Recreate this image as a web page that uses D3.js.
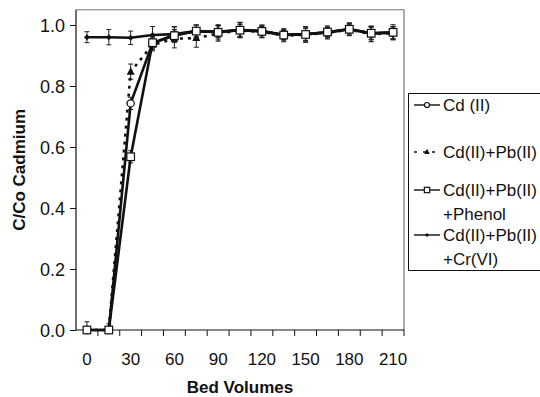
<!DOCTYPE html>
<html>
<head>
<meta charset="utf-8">
<script src="https://cdn.jsdelivr.net/npm/d3@7"></script>
<style>
  body { margin: 0; background: #fff; }
  svg text { font-family: "Liberation Sans", Arial, sans-serif; fill: #111; }
</style>
</head>
<body>
<div id="chart"></div>
<script>
// bed volumes (categories)
var bedVolumes = [0, 15, 30, 45, 60, 75, 90, 105, 120, 135, 150, 165, 180, 195, 210];
var xLabels = ["0", "", "30", "", "60", "", "90", "", "120", "", "150", "", "180", "", "210"];
var yTicks = [0, 0.2, 0.4, 0.6, 0.8, 1.0];

// C/Co values
var cdOnly   = [0, 0, 0.743, 0.94, 0.968, 0.98, 0.978, 0.983, 0.98, 0.968, 0.97, 0.975, 0.986, 0.972, 0.975];
var cdPb     = [0, 0, 0.847, 0.935, 0.955, 0.957, 0.972, 0.982, 0.978, 0.965, 0.968, 0.974, 0.985, 0.97, 0.973];
var cdPbPhen = [0, 0, 0.568, 0.942, 0.965, 0.98, 0.976, 0.983, 0.979, 0.967, 0.969, 0.977, 0.986, 0.973, 0.976];
var cdPbCr   = [0.96, 0.96, 0.958, 0.967, 0.97, 0.98, 0.978, 0.984, 0.98, 0.967, 0.97, 0.976, 0.987, 0.973, 0.975];

// error (+/-)
var errCd    = [0, 0, 0.02, 0.02, 0.025, 0.02, 0.02, 0.02, 0.015, 0.02, 0.02, 0.015, 0.02, 0.025, 0.02];
var errPb    = [0, 0, 0.025, 0.02, 0.03, 0.03, 0.025, 0.02, 0.02, 0.02, 0.025, 0.02, 0.02, 0.025, 0.02];
var errPhen  = [0.027, 0.02, 0.02, 0.02, 0.02, 0.02, 0.025, 0.025, 0.02, 0.015, 0.02, 0.02, 0.015, 0.02, 0.025];
var errCr    = [0.018, 0.025, 0.022, 0.028, 0.025, 0.02, 0.02, 0.025, 0.02, 0.015, 0.025, 0.015, 0.02, 0.02, 0.02];

var seriesNames = ["Cd (II)", "Cd(II)+Pb(II)", "Cd(II)+Pb(II)\n+Phenol", "Cd(II)+Pb(II)\n+Cr(VI)"];

var series = [
  { name: seriesNames[0], values: cdOnly,   err: errCd,   marker: "circle",   dash: null },
  { name: seriesNames[1], values: cdPb,     err: errPb,   marker: "triangle", dash: "3,5" },
  { name: seriesNames[2], values: cdPbPhen, err: errPhen, marker: "square",   dash: null },
  { name: seriesNames[3], values: cdPbCr,   err: errCr,   marker: "diamond",  dash: null }
];

var W = 540, H = 397;
var plot = { left: 76, right: 404, top: 9.75, bottom: 330 };

var svg = d3.select("#chart").append("svg")
    .attr("width", W)
    .attr("height", H);

var xScale = d3.scaleBand()
    .domain(bedVolumes)
    .range([plot.left, plot.right])
    .padding(0);

var yScale = d3.scaleLinear()
    .domain([0, 1.05])
    .range([plot.bottom, plot.top]);

function cx(v) { return xScale(v) + xScale.bandwidth() / 2; }

// frame (top and right)
svg.append("path")
    .attr("d", "M" + plot.left + "," + plot.top + "H" + plot.right + "V" + plot.bottom)
    .style("fill", "none")
    .style("stroke", "#777")
    .style("stroke-width", 1.2);

// y axis
var yAxis = svg.append("g")
    .attr("transform", "translate(" + plot.left + ",0)")
    .call(d3.axisLeft(yScale).tickValues(yTicks).tickFormat(d3.format(".1f")).tickSize(6).tickPadding(5).tickSizeOuter(0));
yAxis.select(".domain").attr("d", "M0," + plot.top + "V" + plot.bottom).style("stroke", "#111").style("stroke-width", 1.2);
yAxis.selectAll("line").style("stroke", "#111");
yAxis.selectAll("text").style("font-size", "18px").attr("dy", "0.36em");

// x axis: ticks at category boundaries, labels at centres
var xg = svg.append("g");
xg.append("line")
    .attr("x1", plot.left).attr("x2", plot.right)
    .attr("y1", plot.bottom).attr("y2", plot.bottom)
    .style("stroke", "#111").style("stroke-width", 1.2);
var bounds = bedVolumes.map(function(d) { return xScale(d); }).concat([plot.right]);
xg.selectAll("line.tick").data(bounds.slice(1)).enter().append("line")
    .attr("class", "tick")
    .attr("x1", function(d) { return d; }).attr("x2", function(d) { return d; })
    .attr("y1", plot.bottom).attr("y2", plot.bottom + 6)
    .style("stroke", "#111");
xg.selectAll("text").data(bedVolumes).enter().append("text")
    .attr("x", function(d) { return cx(d); })
    .attr("y", 365)
    .attr("text-anchor", "middle")
    .style("font-size", "17px")
    .text(function(d, i) { return xLabels[i]; });

// axis titles
svg.append("text")
    .attr("x", (plot.left + plot.right) / 2)
    .attr("y", 393)
    .attr("text-anchor", "middle")
    .style("font-size", "17px")
    .style("font-weight", "bold")
    .text("Bed Volumes");

svg.append("text")
    .attr("transform", "translate(25," + (plot.top + plot.bottom) / 2 + ") rotate(-90)")
    .attr("text-anchor", "middle")
    .style("font-size", "17px")
    .style("font-weight", "bold")
    .text("C/Co Cadmium");

// markers
function drawMarker(g, type, x, y, k) {
    k = k || 1;
    if (type === "circle") {
        g.append("circle").attr("cx", x).attr("cy", y).attr("r", 3.6 * k)
            .style("fill", "#fff").style("stroke", "#111").style("stroke-width", 1.2);
    } else if (type === "square") {
        g.append("rect").attr("x", x - 3.8 * k).attr("y", y - 3.8 * k).attr("width", 7.6 * k).attr("height", 7.6 * k)
            .style("fill", "#fff").style("stroke", "#111").style("stroke-width", 1.2);
    } else if (type === "triangle") {
        g.append("path").attr("d", "M" + x + "," + (y - 4.5 * k) + "L" + (x + 4 * k) + "," + (y + 3 * k) + "L" + (x - 4 * k) + "," + (y + 3 * k) + "Z")
            .style("fill", "#111");
    } else {
        g.append("path").attr("d", "M" + x + "," + (y - 3 * k) + "L" + (x + 3 * k) + "," + y + "L" + x + "," + (y + 3 * k) + "L" + (x - 3 * k) + "," + y + "Z")
            .style("fill", "#111");
    }
}

var line = d3.line()
    .x(function(d) { return cx(d.x); })
    .y(function(d) { return yScale(d.y); });

var drawOrder = [3, 1, 0, 2];

drawOrder.forEach(function(si) {
    var s = series[si];
    var pts = bedVolumes.map(function(b, i) { return { x: b, y: s.values[i], e: s.err[i] }; });
    var g = svg.append("g");

    // error bars
    pts.forEach(function(p) {
        if (!p.e) return;
        var x = cx(p.x), y1 = yScale(p.y + p.e), y2 = yScale(Math.max(0, p.y - p.e));
        g.append("path")
            .attr("d", "M" + x + "," + y1 + "V" + y2 + "M" + (x - 2.5) + "," + y1 + "H" + (x + 2.5) + "M" + (x - 2.5) + "," + y2 + "H" + (x + 2.5))
            .style("fill", "none").style("stroke", "#222").style("stroke-width", 1);
    });

    g.append("path")
        .datum(pts)
        .attr("d", line)
        .style("fill", "none")
        .style("stroke", "#111")
        .style("stroke-width", 2.6)
        .style("stroke-dasharray", s.dash);

    pts.forEach(function(p) { drawMarker(g, s.marker, cx(p.x), yScale(p.y)); });
});

// legend
var legend = svg.append("g");
legend.append("rect")
    .attr("x", 408.5).attr("y", 93.5)
    .attr("width", 140).attr("height", 177)
    .style("fill", "#fff").style("stroke", "#111").style("stroke-width", 1);

var legendY = [105, 152, 190, 235];
series.forEach(function(s, i) {
    var y = legendY[i];
    legend.append("line")
        .attr("x1", 414).attr("x2", 440).attr("y1", y).attr("y2", y)
        .style("stroke", "#111").style("stroke-width", s.marker === "triangle" ? 1.6 : 1.4)
        .style("stroke-dasharray", s.dash ? "3,6" : null);
    drawMarker(legend, s.marker, 427, y, 0.7);
    var lines = s.name.split("\n");
    var t = legend.append("text")
        .attr("x", 443).attr("y", y + 6)
        .style("font-size", "17px");
    lines.forEach(function(l, k) {
        t.append("tspan").attr("x", 443).attr("dy", k === 0 ? 0 : 23.5).text(l);
    });
});
</script>
</body>
</html>
